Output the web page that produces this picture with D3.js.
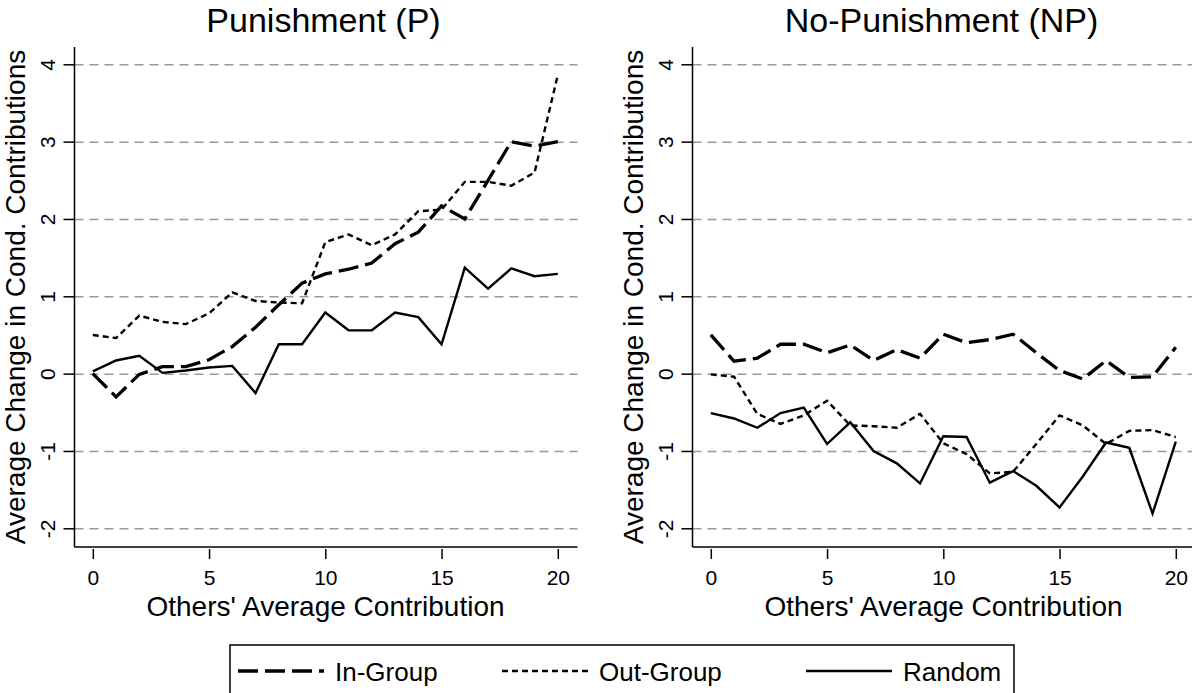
<!DOCTYPE html>
<html>
<head>
<meta charset="utf-8">
<script src="https://cdn.jsdelivr.net/npm/d3@7"></script>
<style>
  body { margin: 0; background: #fff; }
  svg { display: block; font-family: "Liberation Sans", Arial, Helvetica, sans-serif; }
</style>
</head>
<body>
<div id="chart"></div>
<script>
// ── Data ────────────────────────────────────────────────────────────────────
const contrib = [0, 1, 2, 3, 4, 5, 6, 7, 8, 9, 10, 11, 12, 13, 14, 15, 16, 17, 18, 19, 20];

const pInGroup  = [0, -0.30, -0.01, 0.09, 0.09, 0.18, 0.35, 0.60, 0.89, 1.17, 1.29, 1.35, 1.43, 1.68, 1.83, 2.17, 2.00, 2.50, 3.00, 2.94, 3.00];
const pOutGroup = [0.50, 0.46, 0.75, 0.67, 0.64, 0.78, 1.05, 0.94, 0.92, 0.91, 1.70, 1.80, 1.66, 1.80, 2.10, 2.12, 2.48, 2.48, 2.43, 2.60, 3.86];
const pRandom   = [0.03, 0.17, 0.23, 0.01, 0.04, 0.08, 0.10, -0.25, 0.38, 0.38, 0.79, 0.56, 0.56, 0.79, 0.73, 0.38, 1.37, 1.10, 1.36, 1.26, 1.29];

const npInGroup  = [0.50, 0.16, 0.20, 0.38, 0.38, 0.27, 0.37, 0.17, 0.31, 0.20, 0.51, 0.40, 0.44, 0.51, 0.27, 0.04, -0.07, 0.17, -0.05, -0.04, 0.34];
const npOutGroup = [-0.01, -0.04, -0.52, -0.65, -0.54, -0.35, -0.67, -0.68, -0.70, -0.52, -0.90, -1.04, -1.29, -1.27, -0.91, -0.54, -0.67, -0.91, -0.74, -0.73, -0.82];
const npRandom   = [-0.51, -0.58, -0.70, -0.51, -0.44, -0.91, -0.63, -1.00, -1.16, -1.42, -0.81, -0.82, -1.41, -1.26, -1.45, -1.73, -1.33, -0.89, -0.96, -1.81, -0.88];

const panelTitles = ['Punishment (P)', 'No-Punishment (NP)'];
const seriesNames = ['In-Group', 'Out-Group', 'Random'];
const xTicks = [0, 5, 10, 15, 20];
const yTicks = [-2, -1, 0, 1, 2, 3, 4];

const xLabel = "Others' Average Contribution";
const yLabel = 'Average Change in Cond. Contributions';

// ── Layout ──────────────────────────────────────────────────────────────────
const W = 1192, H = 693;
const FONT = '"Liberation Sans", Arial, Helvetica, sans-serif';

// line style per series: in-group long dash, out-group short dash, random solid
const styles = {
  'In-Group':  { width: 3.3, dash: '20,7' },
  'Out-Group': { width: 2.4, dash: '6,4' },
  'Random':    { width: 2.4, dash: null }
};

const panels = [
  { title: panelTitles[0], left: 74.5, series: [pInGroup, pOutGroup, pRandom] },
  { title: panelTitles[1], left: 692.5, series: [npInGroup, npOutGroup, npRandom] }
];

const plotTop = 47, plotBottom = 547, plotW = 503;

const svg = d3.select('#chart').append('svg')
  .attr('width', W)
  .attr('height', H);

svg.append('rect').attr('width', W).attr('height', H).attr('fill', '#fff');

panels.forEach(p => {
  const g = svg.append('g').attr('transform', `translate(${p.left},0)`);

  const x = d3.scaleLinear().domain([0, 20]).range([18.3, 18.3 + 465]);
  const y = d3.scaleLinear().domain([-2, 4]).range([528.3, 64.3]);

  // gridlines
  g.append('g')
    .call(d3.axisLeft(y).tickValues(yTicks).tickSize(-plotW).tickFormat(''))
    .call(ax => ax.select('.domain').remove())
    .call(ax => ax.selectAll('line')
      .attr('stroke', '#999').attr('stroke-width', 1.5).attr('stroke-dasharray', '9,6'));

  // series lines
  p.series.forEach((vals, i) => {
    const st = styles[seriesNames[i]];
    const data = contrib.map((c, k) => ({ c, v: vals[k] }));
    g.append('path')
      .datum(data)
      .attr('fill', 'none')
      .attr('stroke', '#000')
      .attr('stroke-width', st.width)
      .attr('stroke-linejoin', 'miter')
      .attr('stroke-dasharray', st.dash)
      .attr('d', d3.line().x(d => x(d.c)).y(d => y(d.v)));
  });

  // y axis (Stata style: labels turned vertical, plain hyphen minus)
  g.append('g')
    .call(d3.axisLeft(y).tickValues(yTicks).tickSize(11).tickFormat(d => String(d)))
    .call(ax => ax.select('.domain').remove())
    .call(ax => ax.selectAll('line').attr('stroke', '#000').attr('stroke-width', 1.5))
    .call(ax => ax.selectAll('text')
      .attr('fill', '#000')
      .style('font-family', FONT).style('font-size', '21px')
      .attr('text-anchor', 'middle')
      .attr('x', 0).attr('dy', 0)
      .attr('transform', 'translate(-20,0) rotate(-90)'));

  g.append('line')
    .attr('x1', 0).attr('x2', 0)
    .attr('y1', plotTop).attr('y2', plotBottom)
    .attr('stroke', '#000').attr('stroke-width', 1.5);

  // x axis
  g.append('line')
    .attr('x1', 0).attr('x2', plotW)
    .attr('y1', plotBottom).attr('y2', plotBottom)
    .attr('stroke', '#000').attr('stroke-width', 1.5);

  g.append('g')
    .attr('transform', `translate(0,${plotBottom + 2})`)
    .call(d3.axisBottom(x).tickValues(xTicks).tickSize(10).tickPadding(11))
    .call(ax => ax.select('.domain').remove())
    .call(ax => ax.selectAll('line').attr('stroke', '#000').attr('stroke-width', 1.5))
    .call(ax => ax.selectAll('text')
      .attr('fill', '#000')
      .style('font-family', FONT).style('font-size', '21px'));

  // axis titles
  g.append('text')
    .attr('x', 251).attr('y', 616)
    .attr('text-anchor', 'middle')
    .style('font-family', FONT).style('font-size', '28px')
    .text(xLabel);

  g.append('text')
    .attr('transform', `translate(-50,${(plotTop + plotBottom) / 2}) rotate(-90)`)
    .attr('text-anchor', 'middle')
    .style('font-family', FONT).style('font-size', '28px')
    .text(yLabel);

  // panel title
  g.append('text')
    .attr('x', 249).attr('y', 32)
    .attr('text-anchor', 'middle')
    .style('font-family', FONT).style('font-size', '34px')
    .text(p.title);
});

// ── Legend ──────────────────────────────────────────────────────────────────
const legend = svg.append('g');
legend.append('rect')
  .attr('x', 230).attr('y', 645)
  .attr('width', 784).attr('height', 80)
  .attr('fill', '#fff').attr('stroke', '#000').attr('stroke-width', 1.5);

const legendKeys = [
  { name: seriesNames[0], x0: 238, x1: 324, tx: 335 },
  { name: seriesNames[1], x0: 502, x1: 588, tx: 599 },
  { name: seriesNames[2], x0: 806, x1: 892, tx: 903 }
];

legendKeys.forEach(k => {
  const st = styles[k.name];
  legend.append('line')
    .attr('x1', k.x0).attr('x2', k.x1)
    .attr('y1', 671).attr('y2', 671)
    .attr('stroke', '#000')
    .attr('stroke-width', st.width)
    .attr('stroke-dasharray', st.dash);
  legend.append('text')
    .attr('x', k.tx).attr('y', 681)
    .style('font-family', FONT).style('font-size', '26px')
    .text(k.name);
});
</script>
</body>
</html>
